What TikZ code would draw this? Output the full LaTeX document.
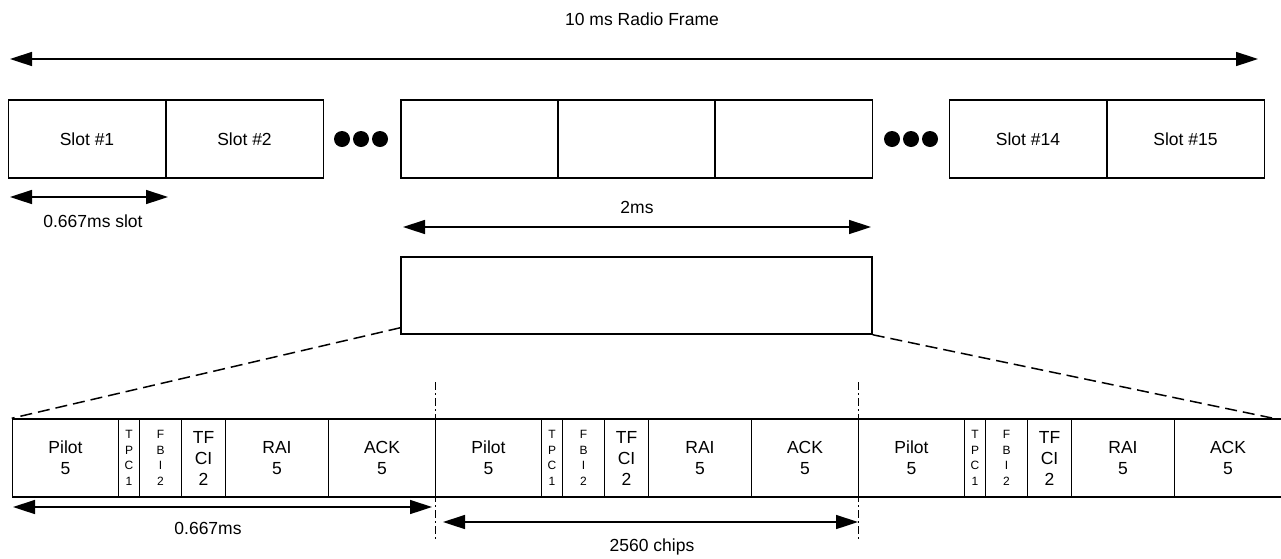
\documentclass[tikz,border=0pt]{standalone}
\usepackage{fontspec}
\setmainfont{Liberation Sans}
\usetikzlibrary{arrows.meta,positioning}
\newcommand{\fieldfont}{\fontsize{17.5}{21}\selectfont}
\newcommand{\stackfont}{\fontsize{12}{15.5}\selectfont}

\begin{document}
\begin{tikzpicture}[x=1pt, y=-1pt, font=\fieldfont,
  slotbox/.style={draw, line width=1.5pt, minimum width=157.5pt, minimum height=78pt, inner sep=0pt},
  fieldbox/.style={draw, line width=1.5pt, minimum height=78pt, inner sep=0pt, align=center},
  ellipsisdot/.style={circle, fill, inner sep=0pt, minimum size=16pt},
  spanarrow/.style={{Triangle[length=22pt,width=14pt]}-{Triangle[length=22pt,width=14pt]}, line width=1.5pt},
  zoomline/.style={line width=1.5pt, dash pattern=on 12pt off 6pt},
  cutline/.style={line width=1.2pt, dash pattern=on 8pt off 3pt on 2pt off 3pt}]
  \useasboundingbox (0,0) rectangle (1281,558);

  % radio frame
  \node (title) at (642,19) {10 ms Radio Frame};
  \coordinate (frameL) at (10,59);
  \coordinate (frameR) at (1258,59);
  \draw[spanarrow] (frameL) -- (frameR);

  % slots
  \node[slotbox] (s1) at (87,139) {Slot \#1};
  \node[slotbox] (s2) at (244.5,139) {Slot \#2};
  \node[slotbox] (m1) at (479.5,139) {};
  \node[slotbox] (m2) at (636.5,139) {};
  \node[slotbox] (m3) at (793.5,139) {};
  \node[slotbox] (s14) at (1028,139) {Slot \#14};
  \node[slotbox] (s15) at (1185.5,139) {Slot \#15};
  \foreach \i/\x in {1/342,2/361,3/380,4/892,5/911,6/930}
    \node[ellipsisdot] (dot\i) at (\x,139) {};

  \coordinate (slotL) at (10,197);
  \coordinate (slotR) at (168,197);
  \draw[spanarrow] (slotL) -- (slotR);
  \node (slotlbl) at (93,221) {0.667ms slot};

  \coordinate (twoL) at (403,227);
  \coordinate (twoR) at (871,227);
  \draw[spanarrow] (twoL) -- (twoR);
  \node (twolbl) at (637,207) {2ms};

  % zoomed part
  \node[slotbox, minimum width=471pt, minimum height=77pt] (zoom) at (636.5,295.5) {};

  % slot fields
  \foreach \s/\x in {1/12.5, 2/435.5, 3/858.5}
    \foreach \k/\a/\w/\f/\t in {pilot/0/106/\fieldfont/{Pilot\\5},
                                 tpc/106/21/\stackfont/{T\\P\\C\\1},
                                 fbi/127/42/\stackfont/{F\\B\\I\\2},
                                 tfci/169/44/\fieldfont/{TF\\CI\\2},
                                 rai/213/103/\fieldfont/{RAI\\5},
                                 ack/316/107/\fieldfont/{ACK\\5}}
      \node[fieldbox, minimum width=\w pt, font=\f] (f\s\k) at (\x+\a+\w/2,458) {\t};

  \coordinate (zl) at ([yshift=7pt]zoom.south west);
  \coordinate (rz) at (1272,418);
  \draw[zoomline] (zl) -- (f1pilot.north west);
  \draw[zoomline] (zoom.south east) -- (rz);

  % slot borders
  \coordinate (cutAtop) at (435.5,382);
  \coordinate (cutAbot) at (435.5,540);
  \coordinate (cutBtop) at (858.5,382);
  \coordinate (cutBbot) at (858.5,540);
  \draw[cutline] (cutAtop) -- (cutAbot);
  \draw[cutline] (cutBtop) -- (cutBbot);

  \coordinate (msL) at (13,507);
  \coordinate (msR) at (432,507);
  \draw[spanarrow] (msL) -- (msR);
  \node (mslbl) at (208,528) {0.667ms};

  \coordinate (chipL) at (443,522);
  \coordinate (chipR) at (858,522);
  \draw[spanarrow] (chipL) -- (chipR);
  \node (chiplbl) at (652,547) {2560 chips};
\end{tikzpicture}
\end{document}
